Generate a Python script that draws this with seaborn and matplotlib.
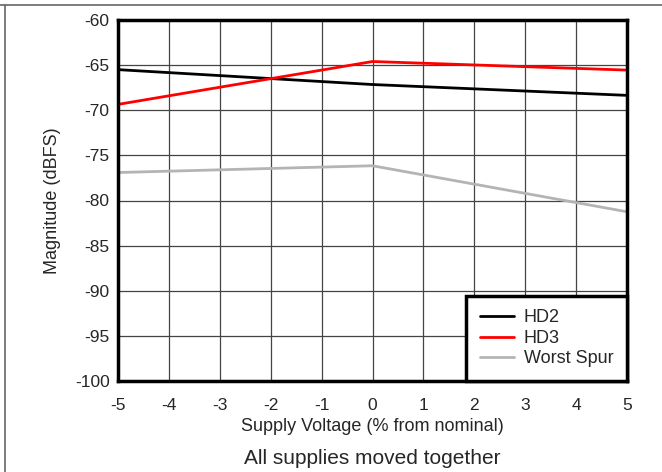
import pandas as pd
import numpy as np
import seaborn as sns
import matplotlib.pyplot as plt
from matplotlib.lines import Line2D

# values
supply_pct = [-5, 0, 5]
hd2 = [-65.5, -67.15, -68.35]
hd3 = [-69.35, -64.6, -65.55]
worst_spur = [-76.9, -76.15, -81.25]
series_names = ["HD2", "HD3", "Worst Spur"]
series_colors = ["#000000", "#ff0000", "#b4b4b4"]

data = pd.DataFrame({
    "x": supply_pct * 3,
    "y": hd2 + hd3 + worst_spur,
    "series": [n for n in series_names for _ in supply_pct],
})

sns.set_style("white")
plt.rcParams['font.family'] = ['Liberation Sans', 'DejaVu Sans']
plt.rcParams['axes.unicode_minus'] = False

fig = plt.figure(figsize=(6.62, 4.72), dpi=100)
ax = fig.add_axes([118 / 662, 1 - 381 / 472, (627 - 118) / 662, (381 - 20) / 472])

sns.lineplot(data=data, x="x", y="y", hue="series", hue_order=series_names,
             palette=series_colors, linewidth=2, ax=ax, zorder=3)

ax.set_xlim(-5, 5)
ax.set_ylim(-100, -60)
ax.set_xticks(np.arange(-5, 6, 1))
ax.set_yticks(np.arange(-100, -59, 5))
ax.grid(True, color='#444444', linewidth=0.9)
ax.tick_params(labelsize=12.5, length=0)
ax.tick_params(axis='x', pad=12)
ax.tick_params(axis='y', pad=6)
for s in ax.spines.values():
    s.set_color('black')
    s.set_linewidth(2.5)
    s.set_zorder(5)

ax.set_xlabel("Supply Voltage (% from nominal)", fontsize=13, labelpad=4)
ax.set_ylabel("Magnitude (dBFS)", fontsize=13, labelpad=10)

leg = ax.legend(loc='lower right', fontsize=13, frameon=True, fancybox=False,
                borderaxespad=0, handlelength=1.9, handletextpad=0.55,
                labelspacing=0.2, borderpad=0.75)
leg.get_frame().set_edgecolor('black')
leg.get_frame().set_linewidth(2.5)
leg.get_frame().set_alpha(1)

fig.text((118 + 627) / 2 / 662, 1 - 459 / 472, "All supplies moved together",
         ha='center', va='center', fontsize=15)

# partial figure border (top and left)
fig.add_artist(Line2D([0, 1], [1 - 4.5 / 472, 1 - 4.5 / 472], color='#666666', linewidth=1.2))
fig.add_artist(Line2D([4.5 / 662, 4.5 / 662], [0, 1 - 4.5 / 472], color='#666666', linewidth=1.2))

fig.savefig("out.png", dpi=100)
